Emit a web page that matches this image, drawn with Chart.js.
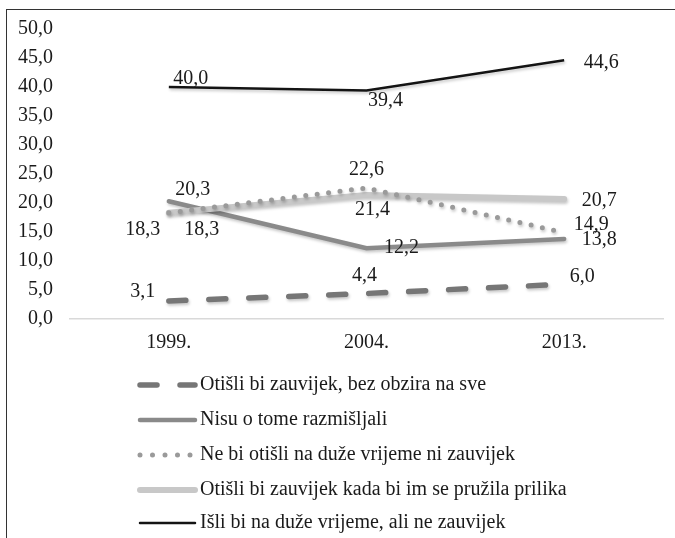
<!DOCTYPE html>
<html>
<head>
<meta charset="utf-8">
<script src="https://cdn.jsdelivr.net/npm/chart.js@4/dist/chart.umd.min.js"></script>
<style>
  html, body { margin: 0; padding: 0; background: #fff; }
  #frame {
    position: absolute; left: 6px; top: 9px; width: 669px; height: 529px;
    border-top: 1px solid #333; border-left: 1px solid #333;
  }
  #wrap { position: absolute; left: 0; top: 0; width: 675px; height: 538px; }
</style>
</head>
<body>
<div id="frame"></div>
<div id="wrap"><canvas id="chart" width="675" height="538"></canvas></div>
<script>
const years = ['1999.', '2004.', '2013.'];
const yTicks = [0, 5, 10, 15, 20, 25, 30, 35, 40, 45, 50];

const seriesNames = [
  'Otišli bi zauvijek, bez obzira na sve',
  'Nisu o tome razmišljali',
  'Ne bi otišli na duže vrijeme ni zauvijek',
  'Otišli bi zauvijek kada bi im se pružila prilika',
  'Išli bi na duže vrijeme, ali ne zauvijek',
];
const bezObzira = [3.1, 4.4, 6.0];
const nisuRazmisljali = [20.3, 12.2, 13.8];
const neBiOtisli = [18.3, 22.6, 14.9];
const kadaPrilika = [18.3, 21.4, 20.7];
const isliNaDuze = [40.0, 39.4, 44.6];

const FONT = "'Liberation Serif', 'Times New Roman', serif";
const FONT_SIZE = 20;
const fmt = v => v.toFixed(1).replace('.', ',');

// label offsets (text centre relative to the point), per series per year
const labelOffsets = [
  [[-26, -9], [-2, -18], [18, -7]],
  [[24, -12], [35, 0], [35, 1]],
  [[33, 17], [0, -18], [27, -8]],
  [[-26, 17], [6, 15], [35, 2]],
  [[22, -8], [19, 10], [37, 2]],
];

const ctx = document.getElementById('chart').getContext('2d');

const shadowPlugin = {
  id: 'lineShadow',
  beforeDatasetDraw(chart) {
    const c = chart.ctx;
    c.save();
    c.shadowColor = 'rgba(0,0,0,0.22)';
    c.shadowBlur = 3;
    c.shadowOffsetX = 1;
    c.shadowOffsetY = 2;
  },
  afterDatasetDraw(chart) {
    chart.ctx.restore();
  },
};

const labelPlugin = {
  id: 'valueLabels',
  afterDatasetsDraw(chart) {
    const c = chart.ctx;
    c.save();
    c.font = `${FONT_SIZE}px ${FONT}`;
    c.fillStyle = '#1a1a1a';
    c.textAlign = 'center';
    c.textBaseline = 'middle';
    chart.data.datasets.forEach((ds, i) => {
      const meta = chart.getDatasetMeta(i);
      meta.data.forEach((pt, j) => {
        const [dx, dy] = labelOffsets[i][j];
        c.fillText(fmt(ds.data[j]), pt.x + dx, pt.y + dy);
      });
    });
    c.restore();
  },
};

const legendPlugin = {
  id: 'listLegend',
  afterDraw(chart) {
    const c = chart.ctx;
    const rows = [385, 420, 455, 490, 523];
    c.save();
    chart.data.datasets.forEach((ds, i) => {
      const y = rows[i];
      c.save();
      c.strokeStyle = ds.borderColor;
      c.lineWidth = ds.borderWidth;
      c.lineCap = 'round';
      c.setLineDash(ds.legendDash || []);
      c.beginPath();
      c.moveTo(140, y);
      c.lineTo(195, y);
      c.stroke();
      c.restore();
      c.font = `${FONT_SIZE}px ${FONT}`;
      c.fillStyle = '#1a1a1a';
      c.textAlign = 'left';
      c.textBaseline = 'middle';
      c.fillText(ds.label, 200, y);
    });
    c.restore();
  },
};

new Chart(ctx, {
  type: 'line',
  data: {
    labels: years,
    datasets: [
      {
        label: seriesNames[0], data: bezObzira, order: 4,
        borderColor: '#767676', borderWidth: 5.5, borderDash: [17, 23],
        legendDash: [17, 23], borderCapStyle: 'round',
      },
      {
        label: seriesNames[1], data: nisuRazmisljali, order: 3,
        borderColor: '#8a8a8a', borderWidth: 4.5, borderCapStyle: 'round',
      },
      {
        label: seriesNames[2], data: neBiOtisli, order: 1,
        borderColor: '#9a9a9a', borderWidth: 5, borderDash: [0, 11.5],
        legendDash: [0, 12.5], borderCapStyle: 'round',
      },
      {
        label: seriesNames[3], data: kadaPrilika, order: 2,
        borderColor: '#c8c8c8', borderWidth: 6, borderCapStyle: 'round',
      },
      {
        label: seriesNames[4], data: isliNaDuze, order: 0,
        borderColor: '#141414', borderWidth: 2.5,
      },
    ].map(d => Object.assign({ pointRadius: 0, pointHoverRadius: 0, tension: 0, fill: false }, d)),
  },
  options: {
    responsive: false,
    animation: false,
    layout: { padding: { top: 29, right: 12, left: 0, bottom: 0 } },
    plugins: {
      legend: { display: false },
      tooltip: { enabled: false },
    },
    scales: {
      x: {
        offset: true,
        grid: { display: false, drawTicks: false },
        border: { display: true, color: '#d9d9d9', width: 1.5 },
        ticks: { color: '#1a1a1a', font: { family: FONT, size: FONT_SIZE }, padding: 12 },
        afterFit: s => { s.height = 219; },
      },
      y: {
        min: 0,
        max: 50,
        afterBuildTicks: s => { s.ticks = yTicks.map(v => ({ value: v })); },
        grid: { display: false, drawTicks: false },
        border: { display: false },
        ticks: {
          color: '#1a1a1a',
          font: { family: FONT, size: FONT_SIZE },
          padding: 17,
          callback: v => fmt(v),
        },
        afterFit: s => { s.width = 70; },
      },
    },
  },
  plugins: [shadowPlugin, labelPlugin, legendPlugin],
});
</script>
</body>
</html>
